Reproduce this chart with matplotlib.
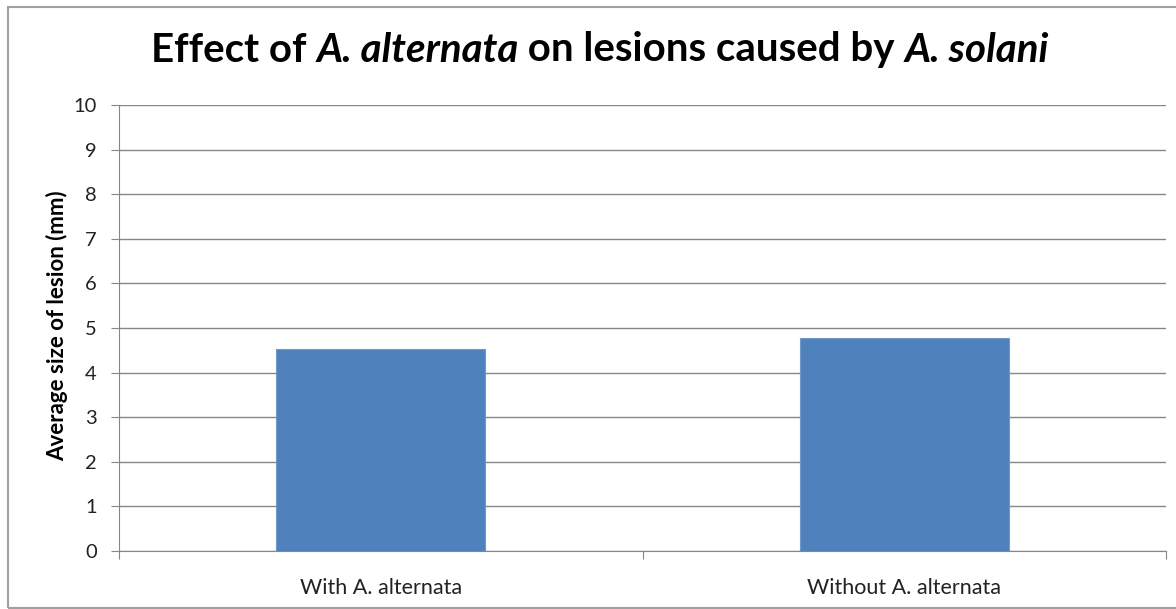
import matplotlib
matplotlib.use("Agg")
import matplotlib.pyplot as plt
from matplotlib.patches import Rectangle

categories = ["With A. alternata", "Without A. alternata"]
lesion_size = [4.52, 4.77]
y_ticks = list(range(0, 11))

title_parts = [("Effect of ", "normal"), ("A. alternata", "italic"),
               (" on lesions caused by ", "normal"), ("A. solani", "italic")]

plt.rcParams["font.family"] = ["Lato", "DejaVu Sans"]
grey = "#868686"

fig = plt.figure(figsize=(11.76, 6.09), dpi=100)
fig.patches.append(Rectangle((8 / 1176, 0.002), 1.2, 1 - 8 / 609, transform=fig.transFigure,
                             fill=False, edgecolor="#a0a0a0", linewidth=1.5))

ax = fig.add_axes([119 / 1176, 1 - 551 / 609, (1166 - 119) / 1176, (551 - 105) / 609])
xs = list(range(len(categories)))
ax.bar(xs, lesion_size, width=0.4, color="#4F81BD", edgecolor="#7199cc", linewidth=0.8, zorder=3)
ax.set_xlim(-0.5, len(categories) - 0.5)
ax.set_ylim(0, 10)
ax.set_yticks(y_ticks)
ax.set_yticklabels([str(t) for t in y_ticks], fontsize=14.5, color="#222222")
ax.yaxis.grid(True, color=grey, linewidth=1)
ax.set_axisbelow(True)

ax.set_xticks([-0.5, 0.5, 1.5])
ax.set_xticklabels([])
ax.tick_params(axis="x", length=6, color=grey, direction="out")
ax.tick_params(axis="y", length=6, color=grey, direction="out", pad=10)
for x, label in zip(xs, categories):
    ax.text(x, -0.6, label, ha="center", va="top", fontsize=15.5, color="#222222")

for side in ["top", "right"]:
    ax.spines[side].set_visible(False)
for side in ["left", "bottom"]:
    ax.spines[side].set_color(grey)

fig.text(57 / 1176, 1 - 326 / 609, "Average size of lesion (mm)", rotation=90,
         ha="center", va="center", fontsize=16, fontweight="bold")

# title built from pieces so the species names can be italic
renderer = fig.canvas.get_renderer()
pieces = []
for txt, style in title_parts:
    t = fig.text(0, 1 - 50 / 609, txt, fontsize=29, fontweight="bold", style=style,
                 ha="left", va="center")
    pieces.append(t)
widths = [p.get_window_extent(renderer).width for p in pieces]
x0 = (600 - sum(widths) / 2)
for p, w in zip(pieces, widths):
    p.set_x(x0 / 1176)
    x0 += w

fig.savefig("out.png", dpi=100)
